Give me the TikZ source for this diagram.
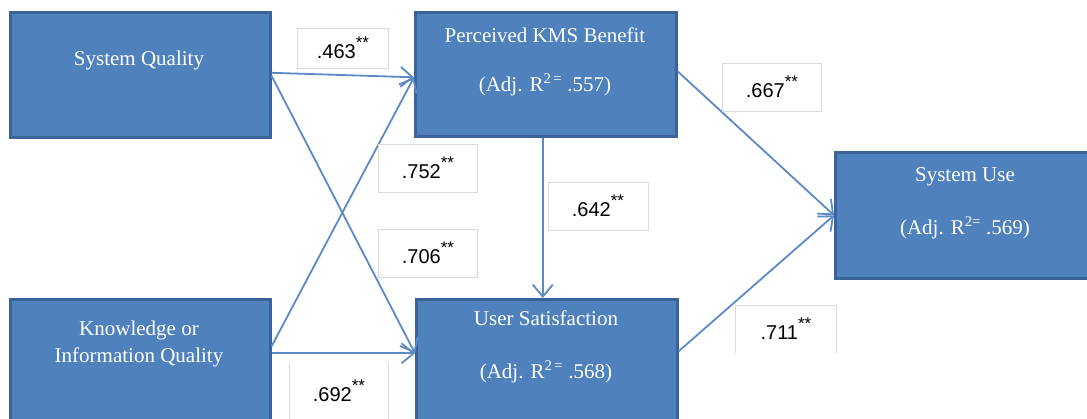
\documentclass[tikz,border=0pt]{standalone}
\usepackage{fontspec}
\setmainfont{Liberation Serif}
\newfontfamily\lblfont{Liberation Sans}
\usetikzlibrary{arrows.meta}
\definecolor{boxfill}{HTML}{4F81BD}
\definecolor{boxline}{HTML}{3A6399}
\definecolor{arrowc}{HTML}{5B8AC6}
\definecolor{lblline}{HTML}{D9D9D9}
\newcommand\sigstars{\raisebox{0.5em}{\fontsize{17}{17}\selectfont **}}
\begin{document}
\begin{tikzpicture}[x=1pt,y=-1pt,
  blk/.style={draw=boxline, line width=2.6pt, fill=boxfill, anchor=north west, inner sep=0pt},
  btxt/.style={text=white, font=\fontsize{21}{27}\selectfont, align=center, inner sep=0pt},
  lbl/.style={draw=lblline, line width=0.8pt, fill=white, inner sep=0pt, font=\lblfont\fontsize{20}{22}\selectfont},
  lblopen/.style={fill=white, inner sep=0pt, font=\lblfont\fontsize{20}{22}\selectfont},
  lblside/.style={draw=lblline, line width=0.8pt},
  conn/.style={draw=arrowc, line width=1.8pt, -{Straight Barb[length=12pt,width=20pt,line width=1.8pt]}}
]
\useasboundingbox (0,0) rectangle (1087,419);
\clip (0,0) rectangle (1087,419);
\fill[white] (0,0) rectangle (1087,419);

% boxes
\node[blk, minimum width=260pt, minimum height=125pt] (sq)  at (9,11) {};
\node[blk, minimum width=261pt, minimum height=124pt] (pkb) at (414,11) {};
\node[blk, minimum width=260pt, minimum height=130pt] (kiq) at (9,298) {};
\node[blk, minimum width=261pt, minimum height=130pt] (us)  at (415,298) {};
\node[blk, minimum width=262pt, minimum height=126pt] (su)  at (834,151) {};

% box texts
\node[btxt] (tsq) at (139,60) {System Quality};
\node[btxt] (tpkb1) at (545,35) {Perceived KMS Benefit};
\node[btxt] (tpkb2) at (545,85) {(Adj. R\textsuperscript{2\,=} .557)};
\node[btxt] (tkiq) at (139,344) {Knowledge or\\Information Quality};
\node[btxt] (tus1) at (546,318) {User Satisfaction};
\node[btxt] (tus2) at (546,372) {(Adj. R\textsuperscript{2\,=} .568)};
\node[btxt] (tsu1) at (965,177) {System Use};
\node[btxt] (tsu2) at (965,228) {(Adj. R\textsuperscript{2=} .569)};

% connectors
\draw[conn] ([yshift=2]sq.east) -- ([yshift=-3]pkb.west);
\draw[conn] ([yshift=-1]sq.east) -- ([yshift=11]us.west);
\draw[conn] ([yshift=18]kiq.east) -- ([yshift=-3]pkb.west);
\draw[conn] ([yshift=11]kiq.east) -- ([yshift=11]us.west);
\draw[conn] ([xshift=-3]pkb.south) -- ([xshift=-4]us.north);
\draw[conn] ([yshift=3]pkb.east) -- (su.west);
\draw[conn] ([yshift=13]us.east) -- (su.west);

% coefficient labels
\node[lbl, minimum width=91pt, minimum height=40pt] (l463) at (343,48) {.463\sigstars};
\node[lbl, minimum width=99pt, minimum height=48pt] (l752) at (428,168) {.752\sigstars};
\node[lbl, minimum width=99pt, minimum height=48pt] (l706) at (428,253) {.706\sigstars};
\node[lbl, minimum width=100pt, minimum height=48pt] (l642) at (598,206) {.642\sigstars};
\node[lbl, minimum width=99pt, minimum height=48pt] (l667) at (772,87) {.667\sigstars};
\node[lblopen, minimum width=100pt, minimum height=47pt] (l711) at (786,329) {.711\sigstars};
\draw[lblside] (l711.south west) -- (l711.north west) -- (l711.north east) -- (l711.south east);
\node[lblopen, minimum width=98pt, minimum height=56pt] (l692) at (339,391) {.692\sigstars};
\draw[lblside] (l692.north west) -- (l692.south west);
\draw[lblside] (l692.north east) -- (l692.south east);
\end{tikzpicture}
\end{document}
